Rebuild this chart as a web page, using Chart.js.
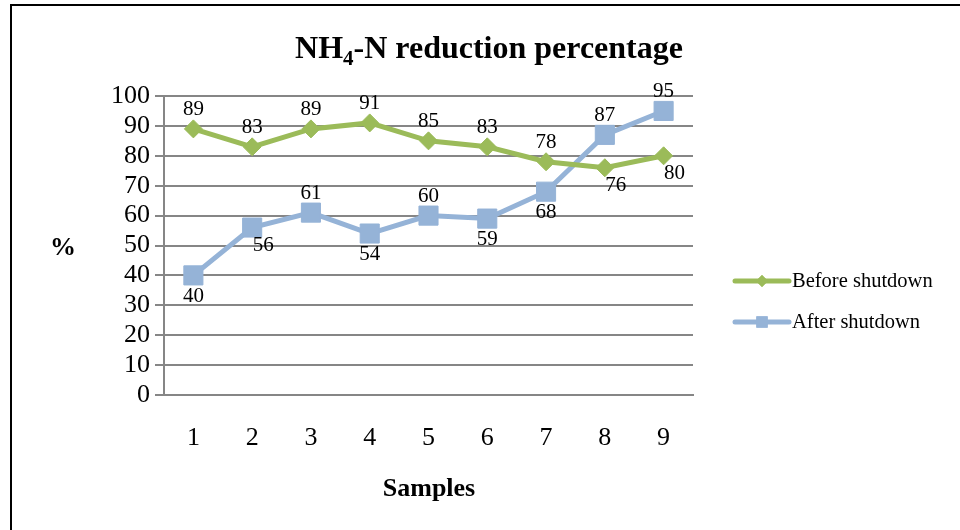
<!DOCTYPE html>
<html>
<head>
<meta charset="utf-8">
<script src="https://cdn.jsdelivr.net/npm/chart.js@4/dist/chart.umd.min.js"></script>
<style>
  html, body { margin: 0; padding: 0; background: #fff; }
  #wrap { width: 960px; height: 530px; }
</style>
</head>
<body>
<div id="wrap"><canvas id="myChart" width="960" height="530"></canvas></div>
<script>
// ------------------------------------------------------------
// Data
// ------------------------------------------------------------
const samples = ['1', '2', '3', '4', '5', '6', '7', '8', '9']
const beforeShutdown = [89, 83, 89, 91, 85, 83, 78, 76, 80]
const afterShutdown = [40, 56, 61, 54, 60, 59, 68, 87, 95]
const yTicks = [0, 10, 20, 30, 40, 50, 60, 70, 80, 90, 100]

const GREEN = '#9BBB59'
const BLUE = '#95B3D7'
const GRID = '#868686'
const SERIF = '"Liberation Serif", "Times New Roman", serif'

// where each value label sits relative to its point
const beforeLabelPos = ['up', 'up', 'up', 'up', 'up', 'up', 'up', 'downRight', 'downRight']
const afterLabelPos = ['down', 'downRight', 'up', 'down', 'up', 'down', 'down', 'up', 'up']

// ------------------------------------------------------------
// Plugin: frame, title, axis titles, legend, value labels
// ------------------------------------------------------------
const decorations = {
    id: 'decorations',
    afterDraw(chart) {
        const ctx = chart.ctx
        ctx.save()

        // frame (top + left edge)
        ctx.fillStyle = '#000'
        ctx.fillRect(10, 4, 950, 2)
        ctx.fillRect(10, 4, 2, 526)

        // title with subscript
        ctx.textBaseline = 'alphabetic'
        ctx.textAlign = 'left'
        const big = 'bold 32px ' + SERIF
        const small = 'bold 21px ' + SERIF
        ctx.font = big
        const w1 = ctx.measureText('NH').width
        const w3 = ctx.measureText('-N reduction percentage').width
        ctx.font = small
        const w2 = ctx.measureText('4').width
        let x = 489 - (w1 + w2 + w3) / 2
        const base = 58
        ctx.font = big
        ctx.fillText('NH', x, base)
        x += w1
        ctx.font = small
        ctx.fillText('4', x, base + 7)
        x += w2
        ctx.font = big
        ctx.fillText('-N reduction percentage', x, base)

        // axis titles
        ctx.textAlign = 'center'
        ctx.textBaseline = 'middle'
        ctx.font = 'bold 26px ' + SERIF
        ctx.fillText('%', 63, 248)
        ctx.fillText('Samples', 429, 489)

        // legend
        const items = [
            { label: 'Before shutdown', color: GREEN, style: 'rectRot', y: 281 },
            { label: 'After shutdown', color: BLUE, style: 'rect', y: 322 }
        ]
        items.forEach(it => {
            ctx.strokeStyle = it.color
            ctx.lineWidth = 5
            ctx.lineCap = 'round'
            ctx.beginPath()
            ctx.moveTo(735, it.y)
            ctx.lineTo(789, it.y)
            ctx.stroke()
            ctx.fillStyle = it.color
            Chart.helpers.drawPoint(ctx, { pointStyle: it.style, radius: it.style === 'rect' ? 8 : 6, rotation: 0, borderWidth: 0 }, 762, it.y)
            ctx.fill()
            ctx.fillStyle = '#000'
            ctx.textAlign = 'left'
            ctx.font = '20.5px ' + SERIF
            ctx.fillText(it.label, 792, it.y + 1)
        })

        // value labels
        ctx.font = '21px ' + SERIF
        ctx.textAlign = 'center'
        ctx.textBaseline = 'middle'
        chart.data.datasets.forEach((ds, di) => {
            const meta = chart.getDatasetMeta(di)
            meta.data.forEach((pt, i) => {
                const pos = ds.labelPos[i]
                let lx = pt.x, ly = pt.y
                if (pos === 'up') ly -= 19
                else if (pos === 'down') ly += 21
                else if (pos === 'downRight') { lx += 11; ly += 18 }
                ctx.fillText(String(ds.data[i]), lx, ly)
            })
        })
        ctx.restore()
    }
}

// ------------------------------------------------------------
// Chart
// ------------------------------------------------------------
const data = {
    labels: samples,
    datasets: [
        {
            label: 'Before shutdown',
            data: beforeShutdown,
            labelPos: beforeLabelPos,
            borderColor: GREEN,
            backgroundColor: GREEN,
            borderWidth: 5,
            pointStyle: 'rectRot',
            pointRadius: 9,
            pointBorderWidth: 1,
            tension: 0
        },
        {
            label: 'After shutdown',
            data: afterShutdown,
            labelPos: afterLabelPos,
            borderColor: BLUE,
            backgroundColor: BLUE,
            borderWidth: 5,
            pointStyle: 'rect',
            pointRadius: 13.5,
            pointBorderWidth: 1,
            tension: 0
        }
    ]
}

const config = {
    type: 'line',
    data: data,
    plugins: [decorations],
    options: {
        responsive: false,
        animation: false,
        events: [],
        layout: {
            padding: { left: 0, right: 267, top: 96, bottom: 0 }
        },
        plugins: {
            legend: { display: false },
            title: { display: false },
            tooltip: { enabled: false }
        },
        scales: {
            x: {
                offset: true,
                grid: { display: false },
                border: { display: true, color: GRID, width: 2 },
                ticks: {
                    color: '#000',
                    padding: 20,
                    font: { family: SERIF, size: 26 }
                },
                afterFit(scale) { scale.height = 135 }
            },
            y: {
                min: 0,
                max: 100,
                afterBuildTicks(scale) { scale.ticks = yTicks.map(v => ({ value: v })) },
                grid: { color: GRID, lineWidth: 2, tickLength: 9 },
                border: { display: true, color: GRID, width: 2 },
                ticks: {
                    color: '#000',
                    padding: 5,
                    autoSkip: false,
                    font: { family: SERIF, size: 26 }
                },
                afterFit(scale) { scale.width = 164 }
            }
        }
    }
}

const myChart = new Chart(document.getElementById('myChart'), config)
</script>
</body>
</html>
